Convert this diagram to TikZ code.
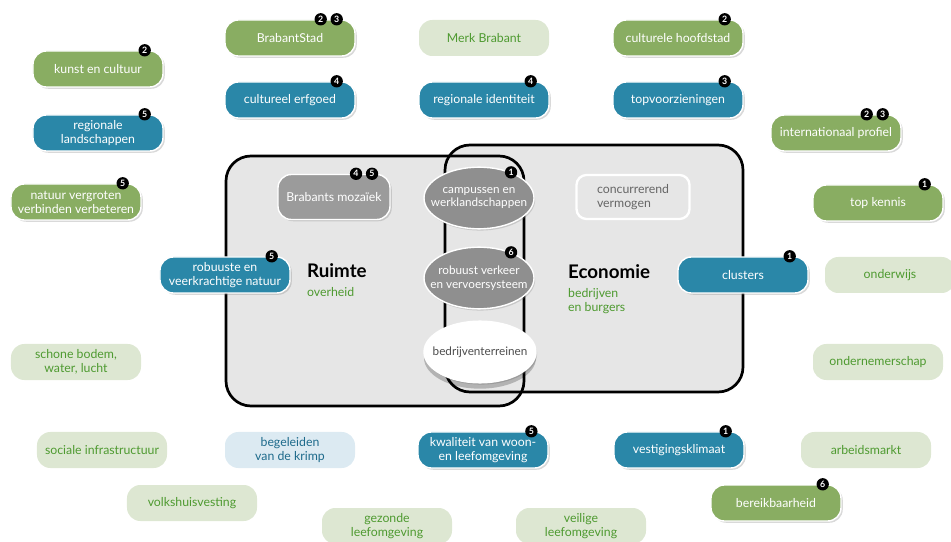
\documentclass[tikz,border=0pt]{standalone}
\usepackage{fontspec}
\setmainfont{Lato}
\usetikzlibrary{shapes.geometric}
\usetikzlibrary{shadows}

\definecolor{tgreen}{HTML}{89AD62}
\definecolor{tblue}{HTML}{2A87A8}
\definecolor{pgreen}{HTML}{DDE7D2}
\definecolor{pgtext}{HTML}{4E9A30}
\definecolor{pblue}{HTML}{DCEAF2}
\definecolor{pbtext}{HTML}{1D6A8B}
\definecolor{boxgrey}{HTML}{9B9B9B}
\definecolor{ellgrey}{HTML}{8F8F8F}
\definecolor{areafill}{HTML}{E6E6E6}

\tikzset{
  tag/.style={rounded corners=0.4cm, minimum width=3.9cm, minimum height=1.08cm,
    align=center, draw=white, line width=1.2pt, inner sep=1pt,
    font=\fontsize{10.5}{12}\selectfont,
    drop shadow={shadow xshift=1.5pt, shadow yshift=-1.5pt, opacity=0.3}},
  greentag/.style={tag, fill=tgreen, text=white},
  bluetag/.style={tag, fill=tblue, text=white},
  softtag/.style={rounded corners=0.4cm, minimum width=3.9cm, minimum height=1.08cm,
    align=center, inner sep=1pt, fill=pgreen, text=pgtext,
    font=\fontsize{10.5}{12}\selectfont},
  oval/.style={ellipse, minimum width=3.3cm, minimum height=1.85cm, inner sep=-1cm,
    align=center, draw=white, line width=1.2pt, fill=ellgrey, text=white,
    font=\fontsize{10}{11.5}\selectfont,
    drop shadow={shadow xshift=1pt, shadow yshift=-1.5pt, opacity=0.3}},
  badge/.style={circle, fill=black, text=white, inner sep=0pt, minimum size=0.37cm,
    font=\fontsize{7.5}{7.5}\selectfont\bfseries},
  area/.style={draw=black, line width=2.3pt, rounded corners=0.75cm},
}

\begin{document}
\begin{tikzpicture}[x=0.03cm, y=-0.03cm]
    \useasboundingbox (0,0) rectangle (951,542);

    % the two areas
    \fill[areafill, rounded corners=0.75cm] (226,156) rectangle (524,406);
    \fill[areafill, rounded corners=0.75cm] (445,145) rectangle (743,392);
    \draw[area] (226,156) rectangle (524,406);
    \draw[area] (445,145) rectangle (743,392);

    \node[anchor=west, font=\bfseries\fontsize{16}{16}\selectfont] at (303,271) {Ruimte};
    \node[anchor=west, text=pgtext, font=\fontsize{10.5}{12}\selectfont] at (303,292) {overheid};
    \node[anchor=west, font=\bfseries\fontsize{16}{16}\selectfont] at (564,272) {Economie};
    \node[anchor=north west, align=left, text=pgtext, font=\fontsize{10.5}{12}\selectfont] at (564,284) {bedrijven\\en burgers};

    % inside the areas
    \node[tag, fill=boxgrey, text=white, minimum width=3.36cm, minimum height=1.35cm] (moz) at (334,197) {Brabants mozaïek};
    \node[badge] at ([xshift=-1.04cm]moz.north east) {4};
    \node[badge] at ([xshift=-0.56cm]moz.north east) {5};
    \node[rounded corners=0.3cm, draw=white, line width=2pt, fill=areafill, text=black!60,
      minimum width=3.39cm, minimum height=1.32cm, align=left,
      font=\fontsize{10.5}{12}\selectfont] (conc) at (633,197) {concurrerend\\vermogen};

    \node[oval] (camp) at (479,198) {campussen en\\werklandschappen};
    \node[badge] at ([xshift=-0.22cm, yshift=0.1cm]camp.north east) {1};
    \node[oval] (verk) at (479,278) {robuust verkeer\\en vervoersysteem};
    \node[badge] at ([xshift=-0.22cm, yshift=0.1cm]verk.north east) {6};
    \node[oval, fill=white, text=black!70, minimum width=3.36cm,
      drop shadow={shadow xshift=0pt, shadow yshift=-5pt, fill=black, opacity=0.22}] (terr) at (480,352) {bedrijventerreinen};

    % top rows
    \node[greentag] (bstad) at (290,38) {BrabantStad};
    \node[badge] at ([xshift=-1.05cm]bstad.north east) {2};
    \node[badge] at ([xshift=-0.57cm]bstad.north east) {3};
    \node[softtag] (merk) at (484,38) {Merk Brabant};
    \node[greentag] (hoofd) at (678,38) {culturele hoofdstad};
    \node[badge] at ([xshift=-0.57cm]hoofd.north east) {2};
    \node[greentag] (kunst) at (98,69) {kunst en cultuur};
    \node[badge] at ([xshift=-0.57cm]kunst.north east) {2};
    \node[bluetag] (erf) at (290,100) {cultureel erfgoed};
    \node[badge] at ([xshift=-0.57cm]erf.north east) {4};
    \node[bluetag] (ident) at (484,100) {regionale identiteit};
    \node[badge] at ([xshift=-0.57cm]ident.north east) {4};
    \node[bluetag] (topv) at (678,100) {topvoorzieningen};
    \node[badge] at ([xshift=-0.57cm]topv.north east) {3};
    \node[bluetag] (land) at (98,133) {regionale\\landschappen};
    \node[badge] at ([xshift=-0.57cm]land.north east) {5};
    \node[greentag] (intl) at (836,133) {internationaal profiel};
    \node[badge] at ([xshift=-1.05cm]intl.north east) {2};
    \node[badge] at ([xshift=-0.57cm]intl.north east) {3};

    % left and right
    \node[greentag] (natuur) at (76,202) {natuur vergroten\\verbinden verbeteren};
    \node[badge] at ([xshift=-0.57cm]natuur.north east) {5};
    \node[greentag] (kennis) at (878,203) {top kennis};
    \node[badge] at ([xshift=-0.57cm]kennis.north east) {1};
    \node[bluetag] (robuust) at (225,275) {robuuste en\\veerkrachtige natuur};
    \node[badge] at ([xshift=-0.57cm]robuust.north east) {5};
    \node[bluetag] (clus) at (743,275) {clusters};
    \node[badge] at ([xshift=-0.57cm]clus.north east) {1};
    \node[softtag] (onderw) at (890,275) {onderwijs};
    \node[softtag] (bodem) at (76,362) {schone bodem,\\water, lucht};
    \node[softtag] (ondern) at (878,362) {ondernemerschap};

    % bottom rows
    \node[softtag] (soc) at (102,450) {sociale infrastructuur};
    \node[softtag, fill=pblue, text=pbtext] (krimp) at (290,450) {begeleiden\\van de krimp};
    \node[bluetag] (woon) at (483,450) {kwaliteit van woon-\\en leefomgeving};
    \node[badge] at ([xshift=-0.52cm]woon.north east) {5};
    \node[bluetag] (vest) at (679,450) {vestigingsklimaat};
    \node[badge] at ([xshift=-0.57cm]vest.north east) {1};
    \node[softtag] (arb) at (866,450) {arbeidsmarkt};
    \node[softtag] (volk) at (192,503) {volkshuisvesting};
    \node[greentag] (bereik) at (776,503) {bereikbaarheid};
    \node[badge] at ([xshift=-0.57cm]bereik.north east) {6};
    \node[softtag] (gezond) at (387,526) {gezonde\\leefomgeving};
    \node[softtag] (veilig) at (581,526) {veilige\\leefomgeving};
\end{tikzpicture}
\end{document}
